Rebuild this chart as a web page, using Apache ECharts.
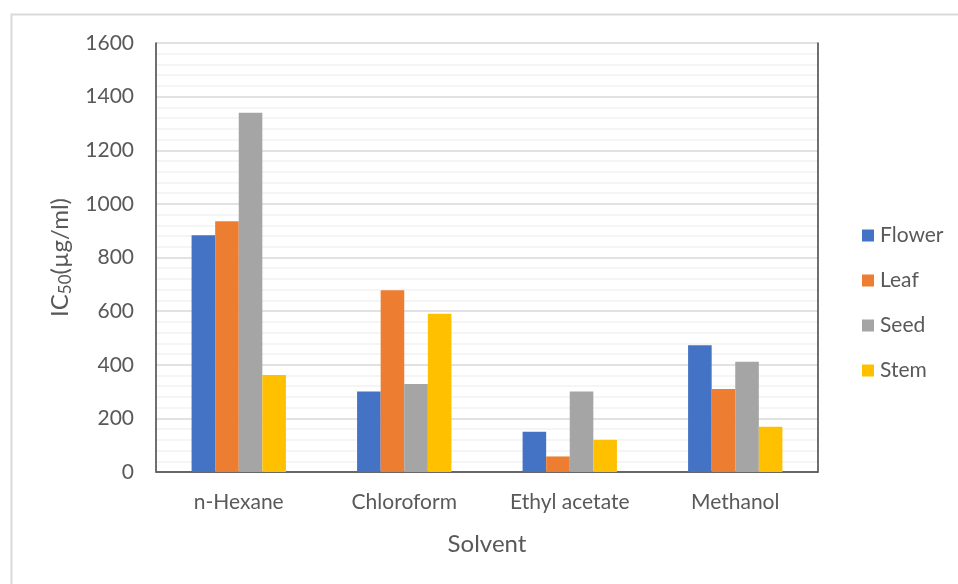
<!DOCTYPE html>
<html>
<head>
<meta charset="utf-8">
<script src="https://cdn.jsdelivr.net/npm/echarts@6/dist/echarts.min.js"></script>
<style>
  html, body { margin: 0; padding: 0; background: #fff; }
  #chart { width: 958px; height: 584px; }
</style>
</head>
<body>
<div id="chart"></div>
<script>
// IC50 values (µg/ml) per solvent extract and plant part
const solvents = ['n-Hexane', 'Chloroform', 'Ethyl acetate', 'Methanol'];
const flower = [883, 300, 150, 473];
const leaf   = [935, 678, 58, 310];
const seed   = [1340, 328, 300, 411];
const stem   = [362, 590, 120, 169];
const yTicks = { min: 0, max: 1600, interval: 200 };

const FONT = 'Lato, "Open Sans", sans-serif';
const TEXT = '#595959';
const FRAME = '#404040';

const chart = echarts.init(document.getElementById('chart'), null, { renderer: 'canvas' });

function bar(name, data) {
  return {
    name, type: 'bar', data,
    barGap: '0%', barCategoryGap: '43%',
    emphasis: { disabled: true }
  };
}

chart.setOption({
  animation: false,
  backgroundColor: '#fff',
  color: ['#4472C4', '#ED7D31', '#A5A5A5', '#FFC000'],
  graphic: [{
    type: 'rect',
    shape: { x: 11.5, y: 14.5, width: 960, height: 600 },
    style: { fill: 'none', stroke: '#D9D9D9', lineWidth: 2 },
    silent: true, z: -10
  }],
  grid: { left: 156, top: 43, right: 140, bottom: 112 },
  legend: {
    orient: 'vertical', left: 857, top: 220,
    itemWidth: 12, itemHeight: 12, itemGap: 24,
    icon: 'rect',
    textStyle: { color: TEXT, fontSize: 21, fontFamily: FONT, padding: [0, 0, 0, 1] },
    data: ['Flower', 'Leaf', 'Seed', 'Stem']
  },
  xAxis: [{
    type: 'category', data: solvents,
    axisLine: { show: true, lineStyle: { color: '#D9D9D9', width: 1.5 } },
    axisTick: { show: false },
    axisLabel: { color: TEXT, fontSize: 21, fontFamily: FONT, margin: 20 },
    name: 'Solvent', nameLocation: 'middle', nameGap: 60,
    nameTextStyle: { color: TEXT, fontSize: 24, fontFamily: FONT }
  }, {
    // top edge of the plot frame
    type: 'category', data: solvents, position: 'top',
    axisLine: { show: true, lineStyle: { color: FRAME, width: 1.5 } },
    axisTick: { show: false }, axisLabel: { show: false }, splitLine: { show: false }
  }],
  yAxis: [{
    type: 'value', min: yTicks.min, max: yTicks.max, interval: yTicks.interval,
    axisLine: { show: true, lineStyle: { color: FRAME, width: 1.5 } },
    axisTick: { show: false },
    axisLabel: { color: TEXT, fontSize: 21, fontFamily: FONT, margin: 22, formatter: v => String(v) },
    splitLine: { lineStyle: { color: '#D9D9D9', width: 1.5 } },
    minorTick: { show: false, splitNumber: 5 },
    minorSplitLine: { show: true, lineStyle: { color: '#F2F2F2', width: 1.5 } },
    name: '{a|IC}{b|50}{a|(µg/ml)}', nameLocation: 'middle', nameGap: 82, nameRotate: 90,
    nameTextStyle: {
      color: TEXT, fontFamily: FONT,
      rich: {
        a: { fontSize: 24, color: TEXT, fontFamily: FONT, lineHeight: 28, verticalAlign: 'middle' },
        b: { fontSize: 17, color: TEXT, fontFamily: FONT, lineHeight: 17, verticalAlign: 'bottom', padding: [14, 0, 0, 0] }
      }
    }
  }, {
    // right edge of the plot frame
    type: 'value', min: yTicks.min, max: yTicks.max, interval: yTicks.interval, position: 'right',
    axisLine: { show: true, lineStyle: { color: FRAME, width: 1.5 } },
    axisTick: { show: false }, axisLabel: { show: false }, splitLine: { show: false }
  }],
  series: [
    bar('Flower', flower),
    bar('Leaf', leaf),
    bar('Seed', seed),
    bar('Stem', stem)
  ]
});
</script>
</body>
</html>
